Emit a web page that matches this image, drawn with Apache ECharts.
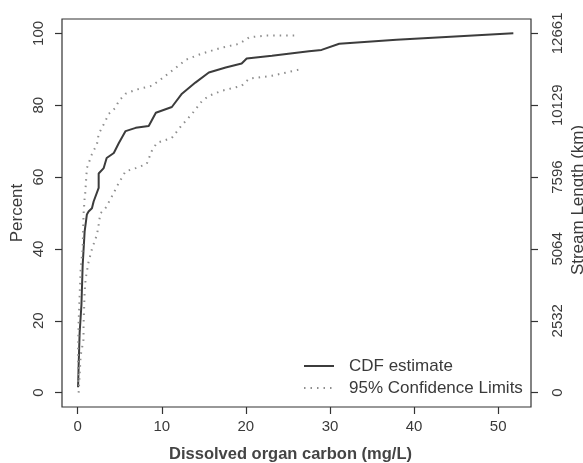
<!DOCTYPE html>
<html>
<head>
<meta charset="utf-8">
<script src="https://cdn.jsdelivr.net/npm/echarts@6/dist/echarts.min.js"></script>
<style>
html,body{margin:0;padding:0;background:#fff;}
#chart{width:583px;height:463px;}
</style>
</head>
<body>
<div id="chart"></div>
<script>
// ---- data ----
const cdfX = [0.05, 0.12, 0.24, 0.45, 0.6, 0.83, 1.1, 1.3, 1.7, 1.9, 2.5, 2.5, 3.1, 3.45, 4.3, 4.9, 5.7, 6.9, 8.45, 9.3, 11.2, 12.4, 14.0, 15.6, 17.6, 19.5, 20.1, 23.1, 27.5, 29.0, 31.1, 37.9, 43.8, 51.8];
const cdfY = [1.5, 7.6, 16.8, 24.4, 35.6, 44.8, 49.6, 50.4, 51.3, 53.2, 57, 61, 62.5, 65.3, 66.7, 69.5, 72.8, 73.7, 74.2, 77.9, 79.5, 83.2, 86.3, 89.1, 90.5, 91.6, 93, 93.8, 95, 95.4, 97.1, 98.2, 99, 100];
const upperX = [0.05, 0.05, 0.12, 0.24, 0.36, 0.6, 0.7, 0.83, 0.9, 1.1, 1.7, 2.3, 2.5, 3.3, 3.7, 4.5, 4.9, 5.7, 6.9, 8.8, 10, 11.7, 12.9, 14.8, 17.1, 19.2, 20.4, 22.4, 26.1];
const upperY = [3, 12, 19.6, 27.2, 34.5, 40, 49.6, 54, 55.5, 62.5, 66.4, 69.2, 72, 75.6, 77.6, 79.3, 81.2, 83.2, 84.3, 85.4, 87.4, 90.5, 92.7, 94.4, 96, 97.1, 98.9, 99.4, 99.4];
const lowerX = [0.12, 0.36, 0.7, 0.7, 0.83, 0.95, 1.3, 1.7, 2.3, 2.5, 2.7, 3.3, 4.0, 4.9, 5.7, 6.9, 8.2, 8.8, 9.4, 11.2, 12.3, 13.6, 14.8, 15.6, 17.1, 19.5, 20.4, 23.1, 26.5];
const lowerY = [0, 10.4, 14.8, 18.8, 28, 31.7, 36.4, 40, 44, 46.8, 49.9, 51.3, 54.3, 58.4, 61.6, 62.5, 63.6, 67.2, 69.5, 70.9, 74.2, 77.6, 81.2, 82.6, 84, 85.4, 87.4, 88.2, 90];
const xTicks = [0, 10, 20, 30, 40, 50];
const percentTicks = [0, 20, 40, 60, 80, 100];
const lengthTickLabels = ['0', '2532', '5064', '7596', '10129', '12661'];
const seriesNames = ['CDF estimate', '95% Confidence Limits'];

const zip = (a, b) => a.map((v, i) => [v, b[i]]);
const txt = '#3a3a3a';
const font = 'Liberation Sans, Arial, sans-serif';
const tickStyle = {color: '#333', width: 1.2};

const chart = echarts.init(document.getElementById('chart'), null, {renderer: 'canvas'});
chart.setOption({
  backgroundColor: '#fff',
  animation: false,
  grid: {left: 62, top: 19, right: 52, bottom: 56, show: true, borderColor: '#333', borderWidth: 1.2,
    backgroundColor: 'transparent', containLabel: false, outerBoundsMode: 'none'},
  legend: {
    data: seriesNames,
    left: 303, top: 356, orient: 'vertical', itemGap: 2, padding: 0,
    itemWidth: 30, itemHeight: 14,
    itemStyle: {opacity: 0},
    textStyle: {fontFamily: font, fontSize: 17, lineHeight: 20, color: txt, padding: [0, 0, 0, 10]}
  },
  xAxis: {
    type: 'value', min: -1.86, max: 53.9,
    axisLine: {show: false, onZero: false},
    axisTick: {show: true, customValues: xTicks, length: 7, lineStyle: tickStyle},
    axisLabel: {customValues: xTicks, color: txt, fontFamily: font, fontSize: 15, margin: 12},
    splitLine: {show: false},
    name: 'Dissolved organ carbon (mg/L)', nameLocation: 'middle', nameGap: 39, nameMoveOverlap: false,
    nameTextStyle: {fontFamily: font, fontSize: 16.5, fontWeight: 'bold', color: '#444', padding: [0, 12, 0, 0]}
  },
  yAxis: [{
    type: 'value', min: -4, max: 104, position: 'left',
    axisLine: {show: false, onZero: false},
    axisTick: {show: true, customValues: percentTicks, length: 7, lineStyle: tickStyle},
    axisLabel: {customValues: percentTicks, rotate: 90, color: txt, fontFamily: font, fontSize: 15, margin: 16},
    splitLine: {show: false},
    name: 'Percent', nameLocation: 'middle', nameGap: 36, nameMoveOverlap: false,
    nameTextStyle: {fontFamily: font, fontSize: 17, color: txt}
  }, {
    type: 'value', min: -4, max: 104, position: 'right',
    axisLine: {show: false, onZero: false},
    axisTick: {show: true, customValues: percentTicks, length: 7, lineStyle: tickStyle},
    axisLabel: {customValues: percentTicks, rotate: 90, color: txt, fontFamily: font, fontSize: 15, margin: 19,
      formatter: v => lengthTickLabels[percentTicks.indexOf(v)] ?? ''},
    splitLine: {show: false},
    name: 'Stream Length (km)', nameLocation: 'middle', nameGap: 39, nameRotate: 90, nameMoveOverlap: false,
    nameTextStyle: {fontFamily: font, fontSize: 17, color: txt, padding: [0, 0, 0, 26]}
  }],
  series: [{
    name: seriesNames[0], type: 'line', data: zip(cdfX, cdfY), showSymbol: false, symbol: 'none',
    lineStyle: {color: '#3c3c3c', width: 2}, itemStyle: {color: '#3c3c3c'}
  }, {
    name: seriesNames[1], type: 'line', data: zip(upperX, upperY), showSymbol: false, symbol: 'none',
    lineStyle: {color: '#8e8e8e', width: 2, type: [1.5, 5]}, itemStyle: {color: '#8e8e8e'}
  }, {
    name: seriesNames[1], type: 'line', data: zip(lowerX, lowerY), showSymbol: false, symbol: 'none',
    lineStyle: {color: '#8e8e8e', width: 2, type: [1.5, 5]}, itemStyle: {color: '#8e8e8e'}
  }]
});
</script>
</body>
</html>
